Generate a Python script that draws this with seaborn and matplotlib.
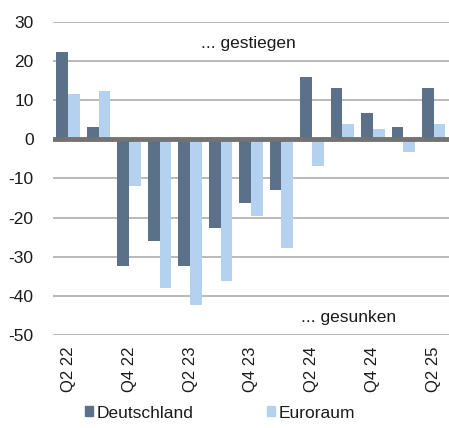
import pandas as pd
import numpy as np
import seaborn as sns
import matplotlib.pyplot as plt

quarters = ['Q2 22', 'Q3 22', 'Q4 22', 'Q1 23', 'Q2 23', 'Q3 23', 'Q4 23',
            'Q1 24', 'Q2 24', 'Q3 24', 'Q4 24', 'Q1 25', 'Q2 25']
deutschland = [22.4, 3.1, -32.3, -25.9, -32.3, -22.6, -16.2, -13.0, 15.9, 13.2, 6.6, 3.2, 13.2]
euroraum = [11.6, 12.4, -11.8, -37.9, -42.4, -36.3, -19.6, -27.8, -6.8, 3.8, 2.7, -3.2, 3.8]
tick_labels = ['Q2 22', 'Q4 22', 'Q2 23', 'Q4 23', 'Q2 24', 'Q4 24', 'Q2 25']
y_ticks = [30, 20, 10, 0, -10, -20, -30, -40, -50]

df = pd.DataFrame({
    'quarter': quarters * 2,
    'value': deutschland + euroraum,
    'region': ['Deutschland'] * len(quarters) + ['Euroraum'] * len(quarters),
})

sns.set_style('white')
plt.rcParams['font.family'] = ['Liberation Sans', 'DejaVu Sans']

fig = plt.figure(figsize=(4.49, 4.28), dpi=100)
ax = fig.add_axes([0.118, 0.217, 0.882, 0.732])

for y in y_ticks:
    if y != 0:
        ax.axhline(y, color='#a6a6a6', lw=1.1, zorder=0)

sns.barplot(data=df, x='quarter', y='value', hue='region', order=quarters,
            palette={'Deutschland': '#5b7189', 'Euroraum': '#b4d2f0'},
            width=0.77, gap=0, saturation=1, edgecolor='none', ax=ax,
            legend=False, zorder=2)

ax.axhline(0, color='#737373', lw=3.5, zorder=3)

ax.set_xlim(-0.5, len(quarters) - 0.5)
ax.set_ylim(-50, 30)
ax.set_yticks(y_ticks)
ax.set_yticklabels([str(v) for v in y_ticks], fontsize=12.5, color='#1a1a1a')
ax.set_xticks([quarters.index(t) for t in tick_labels])
ax.set_xticklabels(tick_labels, rotation=90, fontsize=12, color='#1a1a1a')
ax.tick_params(axis='both', length=0)
ax.tick_params(axis='y', pad=14)
ax.tick_params(axis='x', pad=8)
ax.set_xlabel('')
ax.set_ylabel('')
sns.despine(ax=ax, left=True, bottom=True)

ax.text(5.9, 24.5, '... gestiegen', ha='center', va='center', fontsize=12.5, color='#1a1a1a')
ax.text(9.2, -45.5, '... gesunken', ha='center', va='center', fontsize=12.5, color='#1a1a1a')

handles = [plt.Rectangle((0, 0), 1, 1, color='#5b7189'),
           plt.Rectangle((0, 0), 1, 1, color='#b4d2f0')]
fig.legend(handles, ['Deutschland', 'Euroraum'], loc='center', bbox_to_anchor=(0.49, 0.035),
           ncol=2, frameon=False, fontsize=12.5, handlelength=0.5, handleheight=0.5,
           handletextpad=0.2, columnspacing=4.2, labelcolor='#1a1a1a')

fig.savefig('out.png', dpi=100)
